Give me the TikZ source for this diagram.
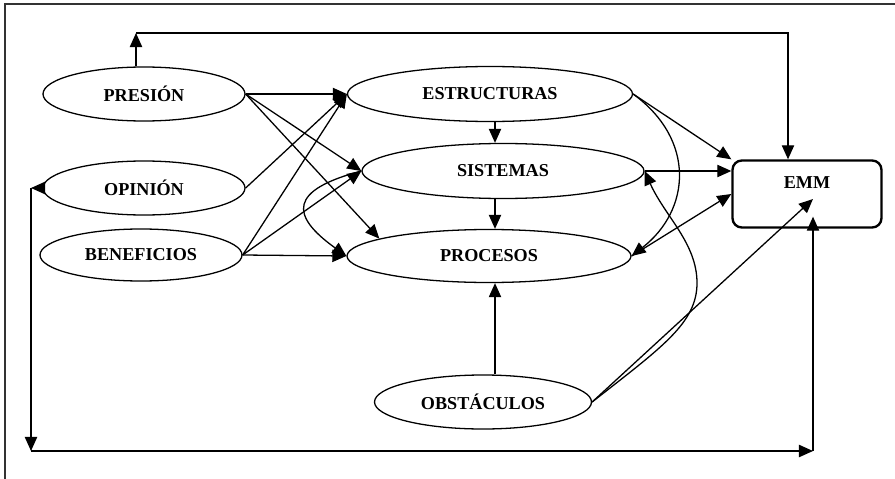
\documentclass[tikz,border=0pt]{standalone}
\usepackage{fontspec}
\setmainfont{Liberation Serif}
\usetikzlibrary{arrows.meta,shapes.geometric}

\def\pxu{0.03cm}

\tikzset{
  oval/.style={ellipse, draw, line width=1.1pt, minimum height=54*\pxu,
    inner sep=0pt, font=\fontsize{15.5}{18}\selectfont\bfseries},
  arr/.style={line width=1.1pt, -{Triangle[length=12pt,width=10.5pt]}}
}

\begin{document}
\begin{tikzpicture}[x=\pxu, y=-\pxu]
        \clip (0,0) rectangle (895,479);
        % outer frame
        \draw[line width=1.6pt, black!80] (5,4) rectangle (910,495);
        % factors on the left
        \node[oval, minimum width=202*\pxu] (pres) at (144,94) {PRESIÓN};
        \node[oval, minimum width=202*\pxu] (opin) at (144,188) {OPINIÓN};
        \node[oval, minimum width=202*\pxu, minimum height=52*\pxu] (bene) at (141,255) {BENEFICIOS};
        % the three levels
        \node[oval, minimum width=285*\pxu, minimum height=55*\pxu] (estr) at (490,94) {ESTRUCTURAS};
        \node[oval, minimum width=282*\pxu, minimum height=55*\pxu] (sist) at (503,171) {SISTEMAS};
        \node[oval, minimum width=284*\pxu, minimum height=53*\pxu] (proc) at (489,256) {PROCESOS};
        \node[oval, minimum width=217*\pxu] (obst) at (483,402) {OBSTÁCULOS};
        % result box
        \node[draw, line width=2pt, rounded corners=8pt, minimum width=149*\pxu,
              minimum height=67*\pxu, text height=10pt, text depth=19pt,
              font=\fontsize{15.5}{18}\selectfont\bfseries] (emm) at (807,194) {EMM};
        % corner points of the loops
        \coordinate (tl) at (136,33);
        \coordinate (tr) at (788,33);
        \coordinate (bl) at (31,451);
        \coordinate (br) at (813,451);
        \coordinate (spine) at (495,0);
        \coordinate (emmin) at (813,199);
        \coordinate (bend) at (697,283);
        % top loop
        \draw[arr] (tl |- pres.north) -- (tl);
        \draw[arr] (tl) -- (tr) -- (tr |- emm.north);
        % bottom loop
        \draw[arr] (opin.west) -- (opin.west -| bl);
        \draw[arr] (opin.west -| bl) -- (bl);
        \draw[arr] (bl) -- (br);
        \draw[arr, shorten >=-3.6mm] (br) -- (br |- emm.south);
        % left factors into the levels
        \draw[arr] (pres.east) -- (estr.west);
        \draw[arr] (pres.east) -- (sist.west);
        \draw[arr] (pres.east) -- (proc.171);
        \draw[arr] (opin.east) -- (estr.west);
        \draw[arr] (bene.east) -- (estr.west);
        \draw[arr] (bene.east) -- (sist.west);
        \draw[arr] (bene.east) -- (proc.west);
        % down the spine
        \draw[arr] (spine |- estr.south) -- (spine |- sist.north);
        \draw[arr] (spine |- sist.south) -- (spine |- proc.north);
        \draw[arr] (spine |- obst.north) -- (spine |- proc.south);
        % into EMM
        \draw[arr] (estr.east) -- (emm.north west);
        \draw[arr] (sist.east) -- (emm.west |- sist.east);
        \draw[arr] (proc.east) -- (emm.west);
        \draw[arr] (obst.east) -- (emmin);
        % curved links
        \draw[arr] (sist.west) .. controls +(-72,19) and +(-57,-41) .. (proc.west);
        \draw[arr] (estr.east) .. controls +(63,46) and +(59,-46) .. (proc.east);
        \draw[arr] (obst.east) .. controls +(70,-55) and +(0,40) .. (bend)
                   .. controls +(0,-40) and +(20,45) .. (sist.east);
    \end{tikzpicture}
\end{document}
